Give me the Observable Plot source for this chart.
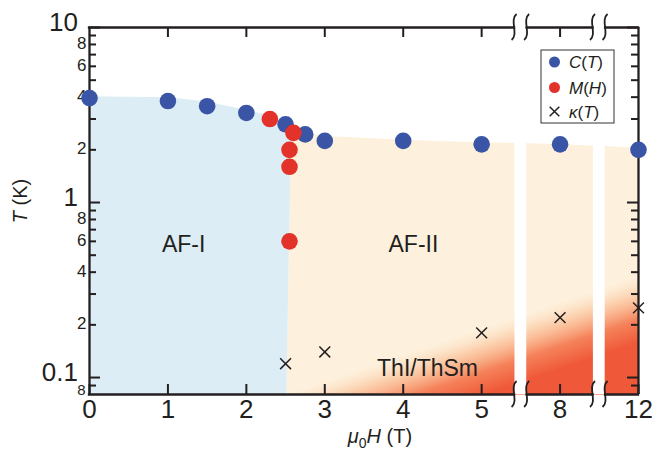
<!DOCTYPE html>
<html>
<head>
<meta charset="utf-8">
<script src="https://cdn.jsdelivr.net/npm/d3@7"></script>
<script src="https://cdn.jsdelivr.net/npm/@observablehq/plot@0.6"></script>
<style>
  html, body { margin: 0; padding: 0; background: #fff; }
  #chart { width: 652px; height: 458px; }
</style>
</head>
<body>
<div id="chart"></div>
<script>
// ---------- data ----------
const fieldC = [0, 1, 1.5, 2, 2.5, 2.75, 3, 4, 5, 8, 12];
const tempC  = [3.95, 3.8, 3.55, 3.25, 2.8, 2.45, 2.25, 2.25, 2.15, 2.15, 2.0];
const fieldM = [2.3, 2.6, 2.55, 2.55, 2.55];
const tempM  = [3.0, 2.5, 2.0, 1.6, 0.6];
const fieldK = [2.5, 3, 5, 8, 12];
const tempK  = [0.12, 0.14, 0.18, 0.22, 0.25];
const seriesNames = ["C(T)", "M(H)", "κ(T)"];

// broken field axis: 0..5, 8, 12
const xTickFields = [0, 1, 2, 3, 4, 5, 8, 12];
const xTickLabels = ["0", "1", "2", "3", "4", "5", "8", "12"];
const xBreaks = [5.5, 6.5];
const yMajorTicks = [0.1, 1, 10];
const yMajorLabels = ["0.1", "1", "10"];
const yMinorTicks = [0.09, 0.2, 0.3, 0.4, 0.5, 0.6, 0.7, 0.8, 0.9, 2, 3, 4, 5, 6, 7, 8, 9];
const yMinorLabelVals = [0.08, 0.2, 0.4, 0.6, 0.8, 2, 4, 6, 8];
const yMinorLabels = ["8", "2", "4", "6", "8", "2", "4", "6", "8"];

// phase regions (axis position, T)
const afIBoundary = [[0, 4.05], [1, 4.0], [1.5, 3.78], [2, 3.38], [2.3, 3.15], [2.57, 2.7], [2.51, 0.08], [0, 0.08]];
const afIIBoundary = [[2.57, 2.6], [3, 2.4], [4, 2.28], [5, 2.2], [5.5, 2.19], [6, 2.15], [6.5, 2.11], [7, 2.05], [7, 0.08], [2.51, 0.08]];
const regionNames = ["AF-I", "AF-II", "ThI/ThSm"];
const regionX = [1.2, 4.13, 4.31];
const regionT = [0.575, 0.575, 0.1125];

// ---------- styles ----------
const FONT = "'Liberation Sans', Arial, Helvetica, sans-serif";
const INK = "#231f20";
const BLUE = "#3a55a6";
const RED = "#e2322a";
const AF1 = "#dcedf5";
const AF2 = "#fdf0dc";

const xPos = h => {
  const f = xTickFields, n = f.length - 1;
  if (h >= f[n]) return n;
  const i = Math.max(0, d3.bisectRight(f, h) - 1);
  return i + (h - f[i]) / (f[i + 1] - f[i]);
};
const cData = fieldC.map((h, i) => ({x: xPos(h), T: tempC[i]}));
const mData = fieldM.map((h, i) => ({x: xPos(h), T: tempM[i]}));
const kData = fieldK.map((h, i) => ({x: xPos(h), T: tempK[i]}));
const afI = afIBoundary.map(([x, T]) => ({x, T}));
const afII = afIIBoundary.map(([x, T]) => ({x, T}));
const xTicks = xTickFields.map((f, i) => ({pos: i, label: xTickLabels[i]}));
const yBig = yMajorTicks.map((v, i) => ({v, t: yMajorLabels[i]}));
const ySmall = yMinorLabelVals.map((v, i) => ({v, t: yMinorLabels[i]}));
const regions = regionNames.map((name, i) => ({name, x: regionX[i], T: regionT[i]}));

const W = 652, H = 458, ML = 89, MR = 14, MT = 27, MB = 64;
const FW = W - ML - MR, FH = H - MT - MB;
const gap = 0.08, shadeGap = 0.075;
const frameSegs = [[0, xBreaks[0] - gap], [xBreaks[0] + gap, xBreaks[1] - gap], [xBreaks[1] + gap, 7]];

// oblique gradient for the ThI/ThSm crossover region
function gradientDefs(index, scales) {
  const x = scales.x, y = scales.y;
  const p0 = [x(2.51), y(0.08)], p1 = [x(7), y(0.38)], q = [x(7), y(0.135)];
  const dx = p1[0] - p0[0], dy = p1[1] - p0[1], len = Math.hypot(dx, dy);
  let nx = -dy / len, ny = dx / len;
  if (ny < 0) { nx = -nx; ny = -ny; }
  const L = (q[0] - p0[0]) * nx + (q[1] - p0[1]) * ny;
  const g = d3.create("svg:g");
  const lg = g.append("defs").append("linearGradient")
    .attr("id", "thgrad").attr("gradientUnits", "userSpaceOnUse")
    .attr("x1", p0[0]).attr("y1", p0[1])
    .attr("x2", p0[0] + L * nx).attr("y2", p0[1] + L * ny);
  [[0, "rgb(252,205,160)", 0], [0.25, "rgb(250,170,120)", 0.5], [0.55, "rgb(244,118,76)", 0.9], [0.85, "rgb(239,88,56)", 1]]
    .forEach(([o, c, a]) => lg.append("stop").attr("offset", o).attr("stop-color", c).attr("stop-opacity", a));
  return g.node();
}

function breakMarks(index, {x, y}) {
  const g = d3.create("svg:g").attr("fill", "none").attr("stroke", INK).attr("stroke-width", 1.8);
  for (const b of xBreaks) for (const s of [-gap, gap]) for (const T of [10, 0.08]) {
    const cx = x(b + s), cy = y(T);
    g.append("path").attr("d", `M${cx + 2.5},${cy - 13} C${cx - 5},${cy - 7} ${cx + 5},${cy + 7} ${cx - 2.5},${cy + 13}`);
  }
  return g.node();
}

function axisTitles() {
  const g = d3.create("svg:g").attr("fill", INK).attr("font-family", FONT).attr("font-size", 20);
  const ty = g.append("text").attr("transform", `translate(27,${MT + 174}) rotate(-90)`).attr("text-anchor", "middle");
  ty.append("tspan").attr("font-style", "italic").text("T");
  ty.append("tspan").text(" (K)");
  const tx = g.append("text").attr("x", 380).attr("y", 443).attr("text-anchor", "middle");
  tx.append("tspan").attr("font-style", "italic").text("μ");
  tx.append("tspan").attr("font-size", 14).attr("dy", 5).text("0");
  tx.append("tspan").attr("font-style", "italic").attr("dy", -5).text("H");
  tx.append("tspan").text(" (T)");
  return g.node();
}

function legend() {
  const g = d3.create("svg:g").attr("font-family", FONT).attr("font-size", 17).attr("fill", INK).attr("text-anchor", "start");
  const bx = ML + FW - 24 - 73, by = MT + 23;
  g.append("rect").attr("x", bx).attr("y", by).attr("width", 73).attr("height", 73)
    .attr("fill", "#fff").attr("stroke", "#333").attr("stroke-width", 1);
  const rows = [by + 12, by + 37.5, by + 61.5];
  g.append("circle").attr("cx", bx + 13.5).attr("cy", rows[0]).attr("r", 5.5).attr("fill", BLUE);
  g.append("circle").attr("cx", bx + 13.5).attr("cy", rows[1]).attr("r", 5.5).attr("fill", RED);
  const cx = bx + 13.5, cy = rows[2], r = 4.8;
  g.append("path").attr("d", `M${cx - r},${cy - r}L${cx + r},${cy + r}M${cx - r},${cy + r}L${cx + r},${cy - r}`)
    .attr("stroke", INK).attr("stroke-width", 1.5);
  const parts = [
    [["C", true], ["(", false], ["T", true], [")", false]],
    [["M", true], ["(", false], ["H", true], [")", false]],
    [["κ", true], ["(", false], ["T", true], [")", false]]
  ];
  parts.forEach((p, i) => {
    const t = g.append("text").attr("x", bx + 28).attr("y", rows[i] + 6).attr("text-anchor", "start");
    p.forEach(([s, it]) => t.append("tspan").attr("font-style", it ? "italic" : "normal").text(s));
  });
  return g.node();
}

const chart = Plot.plot({
  width: W, height: H,
  marginLeft: ML, marginRight: MR, marginTop: MT, marginBottom: MB,
  style: {fontFamily: FONT, color: INK, background: "#fff"},
  x: {type: "linear", domain: [0, 7], axis: null},
  y: {type: "log", domain: [0.08, 10], axis: null},
  marks: [
    gradientDefs,
    Plot.line(afII, {x: "x", y: "T", fill: AF2, stroke: "none", curve: "linear"}),
    Plot.line(afII, {x: "x", y: "T", fill: "url(#thgrad)", stroke: "none", curve: "linear"}),
    Plot.rect(xBreaks, {x1: b => b - shadeGap, x2: b => b + shadeGap, y1: 0.08, y2: 10, fill: "#fff"}),
    Plot.line(afI, {x: "x", y: "T", fill: AF1, stroke: "none", curve: "linear"}),
    // frame
    Plot.ruleX([0, 7], {stroke: INK, strokeWidth: 2.3}),
    Plot.ruleY(frameSegs, {y: 10, x1: d => d[0], x2: d => d[1], stroke: INK, strokeWidth: 2.3, strokeLinecap: "square"}),
    Plot.ruleY(frameSegs, {y: 0.08, x1: d => d[0], x2: d => d[1], stroke: INK, strokeWidth: 2.3, strokeLinecap: "square"}),
    breakMarks,
    // inward ticks
    Plot.tickX(xTicks, {x: "pos", insetTop: FH - 10, stroke: INK, strokeWidth: 2}),
    Plot.tickX(xTicks.slice(1, 7), {x: "pos", insetBottom: FH - 10, stroke: INK, strokeWidth: 2}),
    Plot.tickY(yMajorTicks, {y: d => d, insetRight: FW - 11, stroke: INK, strokeWidth: 2}),
    Plot.tickY(yMinorTicks, {y: d => d, insetRight: FW - 7, stroke: INK, strokeWidth: 2}),
    Plot.tickY(yMajorTicks, {y: d => d, insetLeft: FW - 11, stroke: INK, strokeWidth: 2}),
    Plot.tickY(yMinorTicks, {y: d => d, insetLeft: FW - 7, stroke: INK, strokeWidth: 2}),
    // tick labels
    Plot.text(xTicks, {x: "pos", text: "label", frameAnchor: "bottom", lineAnchor: "top", dy: 5, fontSize: 26}),
    Plot.text(yBig, {y: "v", text: "t", frameAnchor: "left", textAnchor: "end", dx: -11.5, dy: -4.5, fontSize: 26}),
    Plot.text(ySmall, {y: "v", text: "t", frameAnchor: "left", textAnchor: "end", dx: -3, dy: -1, fontSize: 17,
      filter: d => d.v > 0.08}),
    Plot.text(ySmall, {y: "v", text: "t", frameAnchor: "left", textAnchor: "end", dx: -4, dy: -4, fontSize: 15,
      filter: d => d.v <= 0.08}),
    // region labels
    Plot.text(regions, {x: "x", y: "T", text: "name", fontSize: 23}),
    // data
    Plot.dot(cData, {x: "x", y: "T", r: 8.3, fill: BLUE}),
    Plot.dot(mData, {x: "x", y: "T", r: 8.3, fill: RED}),
    Plot.dot(kData, {x: "x", y: "T", r: 5, symbol: "times", stroke: INK, strokeWidth: 1.5}),
    axisTitles,
    legend
  ]
});
document.getElementById("chart").appendChild(chart);
</script>
</body>
</html>
